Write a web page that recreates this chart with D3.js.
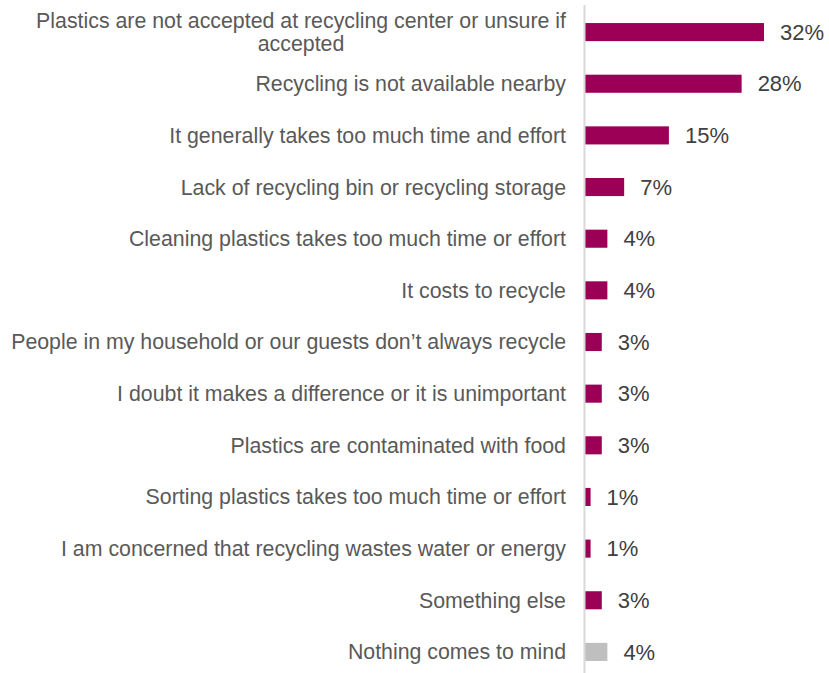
<!DOCTYPE html>
<html>
<head>
<meta charset="utf-8">
<script src="https://cdn.jsdelivr.net/npm/d3@7"></script>
<style>
  html, body { margin: 0; padding: 0; background: #ffffff; }
  svg { display: block; }
</style>
</head>
<body>
<svg id="chart" width="829" height="673"></svg>
<script>
// Reasons for not recycling plastics, share of respondents (%)
const categories = [
  "Plastics are not accepted at recycling center or unsure if accepted",
  "Recycling is not available nearby",
  "It generally takes too much time and effort",
  "Lack of recycling bin or recycling storage",
  "Cleaning plastics takes too much time or effort",
  "It costs to recycle",
  "People in my household or our guests don\u2019t always recycle",
  "I doubt it makes a difference or it is unimportant",
  "Plastics are contaminated with food",
  "Sorting plastics takes too much time or effort",
  "I am concerned that recycling wastes water or energy",
  "Something else",
  "Nothing comes to mind"
];
const values = [32, 28, 15, 7, 4, 4, 3, 3, 3, 1, 1, 3, 4];
// Wrapped lines for labels that do not fit on one line
const labelLines = {
  "Plastics are not accepted at recycling center or unsure if accepted":
    ["Plastics are not accepted at recycling center or unsure if", "accepted"]
};
const neutralCategory = "Nothing comes to mind";

const svg = d3.select("#chart");
const axisX = 585;
const plotTop = 6, plotBottom = 678;

const x = d3.scaleLinear().domain([0, 32]).range([axisX, axisX + 179]);
const y = d3.scaleBand().domain(categories).range([plotTop, plotBottom]).paddingInner(0.65).paddingOuter(0.33);

const barColor = "#9b0056";
const greyColor = "#bfbfbf";

// Bars
svg.append("g").selectAll("rect")
  .data(categories)
  .join("rect")
  .attr("x", axisX)
  .attr("y", d => y(d))
  .attr("width", (d, i) => x(values[i]) - axisX)
  .attr("height", y.bandwidth())
  .attr("fill", d => d === neutralCategory ? greyColor : barColor);

// Vertical category axis line
svg.append("line")
  .attr("x1", axisX - 0.5).attr("x2", axisX - 0.5)
  .attr("y1", 5).attr("y2", 673)
  .attr("stroke", "#d9d9d9").attr("stroke-width", 2);

// Category labels
const labelX = 566;
const cat = svg.append("g")
  .attr("font-family", "'Liberation Sans', Arial, sans-serif")
  .attr("font-size", 21.33)
  .attr("fill", "#595959");

categories.forEach(d => {
  const cy = y(d) + y.bandwidth() / 2;
  const lines = labelLines[d];
  if (lines) {
    // Wrapped label: lines centred within the right-aligned label column
    const t = cat.append("text").attr("text-anchor", "middle");
    const tmp = cat.append("text").text(lines[0]);
    const w = tmp.node().getComputedTextLength();
    tmp.remove();
    const cx = labelX - w / 2;
    lines.forEach((ln, j) => {
      t.append("tspan")
        .attr("x", cx)
        .attr("y", cy + (j - (lines.length - 1) / 2) * 22.5)
        .attr("dy", "0.35em")
        .text(ln);
    });
  } else {
    cat.append("text")
      .attr("x", labelX)
      .attr("y", cy)
      .attr("dy", "0.35em")
      .attr("text-anchor", "end")
      .text(d);
  }
});

// Value labels
svg.append("g")
  .attr("font-family", "'Liberation Sans', Arial, sans-serif")
  .attr("font-size", 22)
  .attr("fill", "#404040")
  .selectAll("text")
  .data(categories)
  .join("text")
  .attr("x", (d, i) => x(values[i]) + 16)
  .attr("y", d => y(d) + y.bandwidth() / 2)
  .attr("dy", "0.35em")
  .text((d, i) => values[i] + "%");
</script>
</body>
</html>
